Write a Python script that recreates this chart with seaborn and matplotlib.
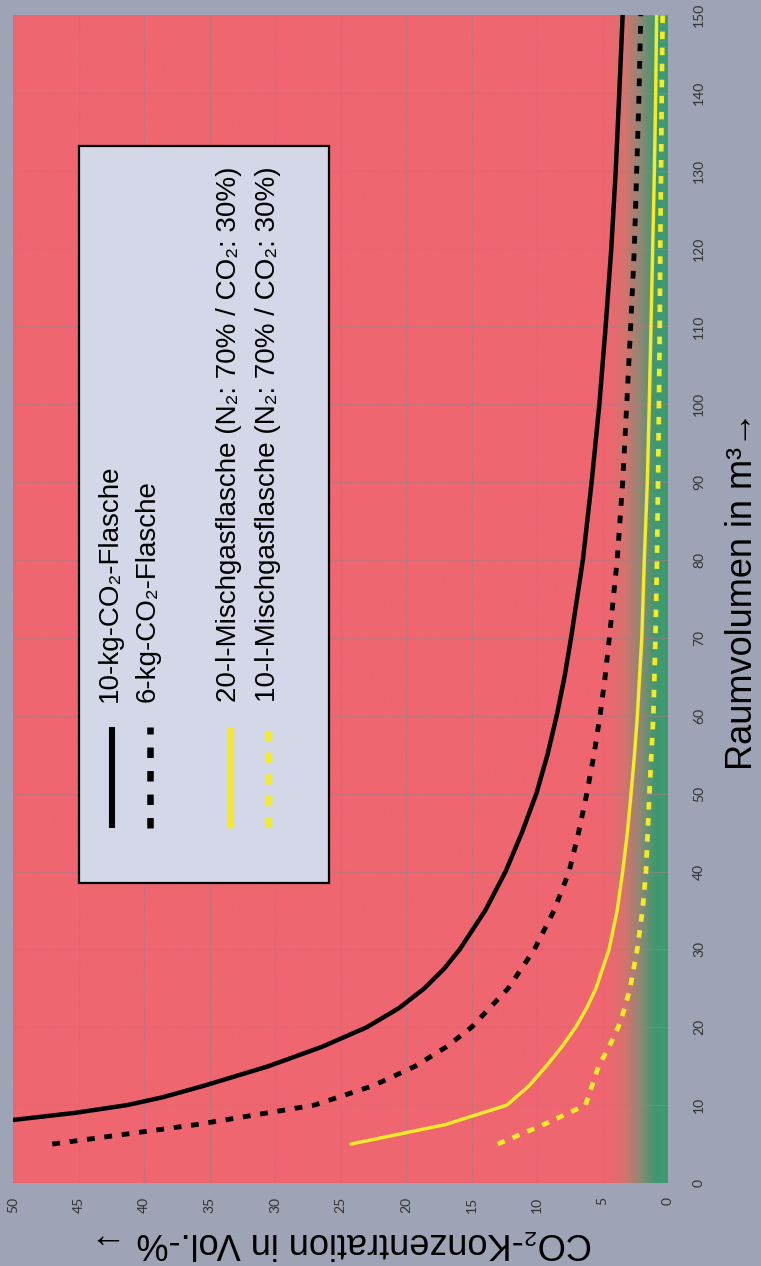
import matplotlib
matplotlib.use("Agg")
import matplotlib.pyplot as plt
from matplotlib.lines import Line2D
from matplotlib.patches import Rectangle
import seaborn as sns
import numpy as np
import pandas as pd

W, H = 761, 1266

# room volume (m3) and CO2 concentration (Vol.-%)
vol_10kg = [8, 9, 10, 11, 12.5, 15, 17.5, 20, 22.5, 25, 27.5, 30, 35, 40, 45, 50, 55, 60, 65,
            70, 80, 90, 100, 110, 120, 130, 140, 150]
conc_10kg = [50.5, 45.3, 41.3, 38.6, 35.4, 30.5, 26.4, 23.0, 20.5, 18.6, 17.1, 15.9, 13.95,
             12.4, 11.15, 10.05, 9.2, 8.5, 7.9, 7.4, 6.5, 5.83, 5.24, 4.76, 4.33, 3.99, 3.72,
             3.46]

vol_6kg = [5, 7.5, 10, 12.5, 15, 17.5, 20, 25, 30, 35, 40, 45, 50, 55, 60, 65, 70, 80, 90,
           100, 110, 120, 130, 140, 150]
conc_6kg = [47.0, 36.0, 27.0, 22.5, 19.3, 16.9, 15.0, 12.2, 10.2, 8.7, 7.55, 6.83, 6.2, 5.65,
            5.19, 4.8, 4.48, 3.88, 3.46, 3.15, 2.85, 2.57, 2.39, 2.21, 2.08]

vol_20l = [5, 7.5, 10, 12.5, 15, 17.5, 20, 22.5, 25, 30, 35, 40, 45, 50, 55, 60, 70, 80, 90,
           100, 110, 120, 130, 140, 150]
conc_20l = [24.2, 17.0, 12.3, 10.6, 9.3, 8.1, 7.05, 6.2, 5.5, 4.5, 3.88, 3.46, 3.1, 2.82,
            2.56, 2.34, 2.0, 1.81, 1.58, 1.43, 1.30, 1.17, 1.04, 0.94, 0.87]

vol_10l = [5, 7.5, 10, 12.5, 15, 17.5, 20, 22.5, 25, 30, 35, 40, 50, 60, 70, 80, 90, 100,
           110, 120, 130, 140, 150]
conc_10l = [13.0, 9.5, 6.3, 5.8, 5.3, 4.5, 3.8, 3.3, 2.9, 2.35, 1.95, 1.68, 1.42, 1.12, 0.96,
            0.84, 0.76, 0.69, 0.63, 0.59, 0.53, 0.48, 0.41]

series = ["10-kg-CO₂-Flasche", "6-kg-CO₂-Flasche",
          "20-l-Mischgasflasche (N₂: 70% / CO₂: 30%)",
          "10-l-Mischgasflasche (N₂: 70% / CO₂: 30%)"]
conc_ticks = list(range(0, 51, 5))
vol_ticks = list(range(0, 151, 10))

# background colour band (danger red -> safe green near 0 %)
band_c = [0, 1.0, 2.2, 3.3, 4.6, 50]
band_rgb = [(62, 154, 114), (66, 152, 112), (150, 134, 116), (214, 114, 110),
            (239, 102, 112), (239, 102, 112)]

sns.set_theme(style="white")
plt.rcParams["font.family"] = ["Liberation Sans", "DejaVu Sans"]

df = pd.concat([
    pd.DataFrame({"vol": v, "conc": c, "series": s})
    for s, v, c in zip(series, [vol_10kg, vol_6kg, vol_20l, vol_10l],
                       [conc_10kg, conc_6kg, conc_20l, conc_10l])
])

yellow = "#F2EA2A"
palette = dict(zip(series, ["black", "black", yellow, yellow]))
dashes = dict(zip(series, ["", (1.6, 2.0), "", (1.6, 1.8)]))
sizes = dict(zip(series, [3.2, 3.5, 2.5, 3.4]))

fig = plt.figure(figsize=(W / 100, H / 100), dpi=100, facecolor="#9EA3B5")
ax = fig.add_axes([13 / W, 1 - 1183 / H, 655 / W, 1168 / H])

cs = np.linspace(0, 50, 1000)
rgb = np.stack([np.interp(cs, band_c, [p[i] for p in band_rgb]) for i in range(3)], axis=-1) / 255
ax.imshow(rgb[None, :, :], extent=(0, 50, 0, 150), aspect="auto", zorder=0,
          interpolation="bilinear")

sns.lineplot(data=df, x="conc", y="vol", hue="series", style="series", size="series",
             palette=palette, dashes=dashes, sizes=sizes, sort=False, estimator=None,
             legend=False, ax=ax, zorder=3)
for line in ax.get_lines():
    line.set_solid_joinstyle("round")

ax.set_xlim(50, 0)
ax.set_ylim(0, 150)
ax.set_xticks(conc_ticks)
ax.set_yticks(vol_ticks)
ax.yaxis.tick_right()
ax.set_xlabel("")
ax.set_ylabel("")
ax.grid(True, color="#a97c84", lw=0.8, alpha=0.55)
ax.set_axisbelow(True)
for sp in ax.spines.values():
    sp.set_visible(False)

tick_family = ["Lato", "DejaVu Sans"]
ax.tick_params(axis="x", length=0, pad=10, labelcolor="#333333")
ax.tick_params(axis="y", length=0, pad=18, labelcolor="#333333")
for lab in ax.get_xticklabels():
    lab.set_rotation(90)
    lab.set_fontfamily(tick_family)
    lab.set_fontsize(10)
for lab in ax.get_yticklabels():
    lab.set_rotation(90)
    lab.set_va("center")
    lab.set_fontfamily(tick_family)
    lab.set_fontsize(10)

# axis titles (chart is turned by 90 degrees)
fig.text(743 / W, 1 - 590 / H, "Raumvolumen in m³→", rotation=90,
         ha="center", va="center", fontsize=26, color="black")
fig.text(341 / W, 1 - 1242 / H, "CO₂-Konzentration in Vol.-% →", rotation=180,
         ha="center", va="center", fontsize=26, color="black")

# legend box drawn by hand, rotated
fig.add_artist(Rectangle((79 / W, 1 - 883 / H), 250 / W, 737 / H, transform=fig.transFigure,
                         facecolor="#D3D7E8", edgecolor="black", lw=1.6, zorder=5))
leg_x = [112, 150, 230, 269]
leg_text_x = [110, 148, 229, 268]
for s, lx, tx in zip(series, leg_x, leg_text_x):
    fig.add_artist(Line2D([lx / W, lx / W], [1 - 828 / H, 1 - 727 / H],
                          transform=fig.transFigure, color=palette[s],
                          lw=sizes[s] + 1.2, dashes=dashes[s] if dashes[s] else (None, None),
                          solid_capstyle="butt", dash_capstyle="butt", zorder=6))
    fig.text(tx / W, 1 - 702 / H, s, rotation=90, ha="center", va="bottom",
             fontsize=20, color="black", zorder=7)

fig.savefig("out.png", dpi=100, facecolor=fig.get_facecolor())
